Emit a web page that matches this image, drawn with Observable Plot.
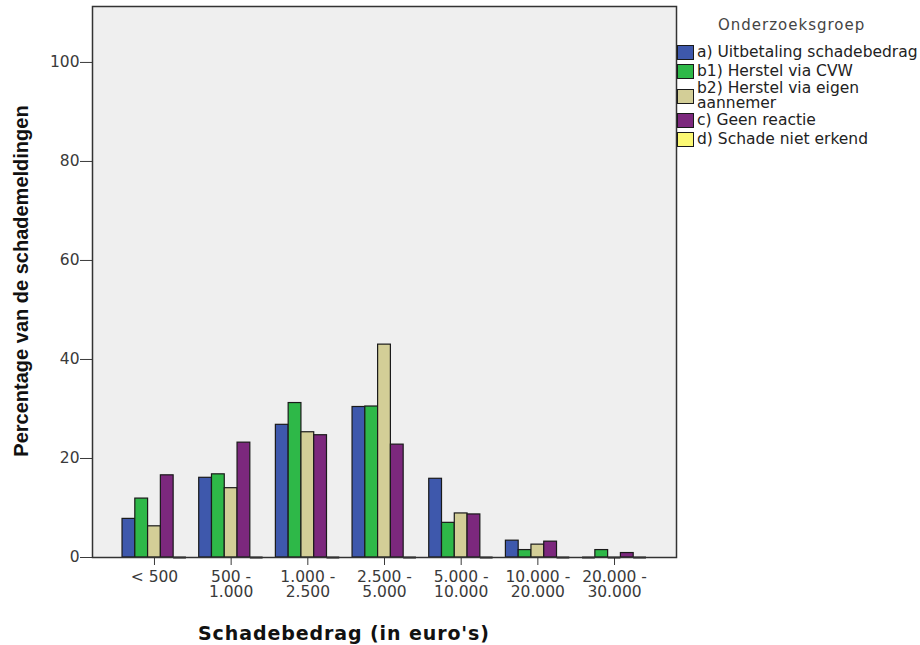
<!DOCTYPE html>
<html>
<head>
<meta charset="utf-8">
<script src="https://cdn.jsdelivr.net/npm/d3@7"></script>
<script src="https://cdn.jsdelivr.net/npm/@observablehq/plot@0.6"></script>
<style>
  body { margin: 0; background: #fff; }
  #wrap { position: relative; width: 920px; height: 645px; overflow: hidden; }
  #chart svg text { font-size: 15.5px; }
  #ytitle { position: absolute; left: 21px; top: 281px; transform: translate(-50%, -50%) rotate(-90deg);
            white-space: nowrap; font-family: "Liberation Sans", Arial, sans-serif; font-weight: bold; font-size: 20px; color: #111; }
  #xtitle { position: absolute; left: 198px; top: 622px; white-space: nowrap; letter-spacing: 0.9px;
            font-family: "DejaVu Sans", sans-serif; font-weight: bold; font-size: 19px; color: #111; }
  #legend { position: absolute; left: 677px; top: 15px; font-family: "DejaVu Sans", sans-serif; color: #222; }
  #legend .title { margin-left: 41px; font-size: 15px; letter-spacing: 1px; color: #444; height: 28px; line-height: 20px; }
  #legend .row { display: flex; align-items: center; height: 19px; font-size: 15.5px; line-height: 15px; white-space: nowrap; }
  #legend .row.two { height: 30px; }
  #legend .row.two .lab { line-height: 15px; }
  #legend .sw { width: 15px; height: 13px; border: 1.2px solid #1a1a1a; margin-right: 3px; flex: none; }
</style>
</head>
<body>
<div id="wrap">
  <div id="chart"></div>
  <div id="ytitle">Percentage van de schademeldingen</div>
  <div id="xtitle">Schadebedrag (in euro's)</div>
  <div id="legend"></div>
</div>
<script>
const categories = ["< 500", "500 -\n1.000", "1.000 -\n2.500", "2.500 -\n5.000", "5.000 -\n10.000", "10.000 -\n20.000", "20.000 -\n30.000"];
const groups = ["a) Uitbetaling schadebedrag", "b1) Herstel via CVW", "b2) Herstel via eigen aannemer", "c) Geen reactie", "d) Schade niet erkend"];
const uitbetaling  = [7.8, 16.1, 26.8, 30.4, 15.9, 3.4, 0];
const herstelCVW   = [11.9, 16.8, 31.2, 30.5, 7.0, 1.5, 1.5];
const herstelEigen = [6.3, 14.0, 25.3, 43.0, 8.9, 2.6, 0];
const geenReactie  = [16.6, 23.2, 24.7, 22.8, 8.7, 3.2, 0.9];
const nietErkend   = [0, 0, 0, 0, 0, 0, 0];
const colors = ["#3e58ac", "#2eb848", "#d3ce97", "#7c287d", "#fbf873"];
const yTicks = [0, 20, 40, 60, 80, 100];
const legendTitle = "Onderzoeksgroep";

const series = [uitbetaling, herstelCVW, herstelEigen, geenReactie, nietErkend];

// Band keys: one band per (category, group), with an empty spacer band between categories.
const keyOf = (i, j) => categories[i] + "|" + groups[j];
const xDomain = [];
categories.forEach((c, i) => {
  if (i > 0) xDomain.push("gap|" + i);
  groups.forEach((g, j) => xDomain.push(keyOf(i, j)));
});
const xTicks = categories.map((c, i) => keyOf(i, 2)); // middle bar of each cluster
const labelOf = new Map(categories.map((c, i) => [keyOf(i, 2), c]));

const data = [];
categories.forEach((c, i) => groups.forEach((g, j) => data.push({key: keyOf(i, j), category: c, group: g, value: series[j][i]})));

const chart = Plot.plot({
  width: 920,
  height: 645,
  marginLeft: 92,
  marginRight: 244,
  marginTop: 6,
  marginBottom: 88,
  style: {fontFamily: "DejaVu Sans, sans-serif", fontSize: "15.5px", color: "#3a3a3a", background: "transparent"},
  x: {domain: xDomain, paddingInner: 0, paddingOuter: 2.35, ticks: xTicks, tickFormat: k => labelOf.get(k), tickSize: 8, tickPadding: 5, label: null},
  y: {domain: [0, 111.3], ticks: yTicks, tickSize: 12, tickPadding: 1, label: null},
  color: {domain: groups, range: colors},
  marks: [
    Plot.frame({fill: "#efefef"}),
    Plot.barY(data, {x: "key", y: "value", fill: "group", stroke: "#1a1a1a", strokeWidth: 1.2}),
    Plot.tickY(data, {filter: d => d.value === 0, x: "key", y: "value", stroke: "#1a1a1a", strokeWidth: 2}),
    Plot.frame({stroke: "#333", strokeWidth: 1.5})
  ]
});
document.getElementById("chart").appendChild(chart);

const legend = document.getElementById("legend");
const t = document.createElement("div");
t.className = "title";
t.textContent = legendTitle;
legend.appendChild(t);
groups.forEach((g, i) => {
  const row = document.createElement("div");
  row.className = "row" + (i === 2 ? " two" : "");
  const sw = document.createElement("div");
  sw.className = "sw";
  sw.style.background = colors[i];
  const lab = document.createElement("div");
  lab.className = "lab";
  if (i === 2) {
    lab.innerHTML = "b2) Herstel via eigen<br>aannemer";
  } else {
    lab.textContent = g;
  }
  row.appendChild(sw);
  row.appendChild(lab);
  legend.appendChild(row);
});
</script>
</body>
</html>
